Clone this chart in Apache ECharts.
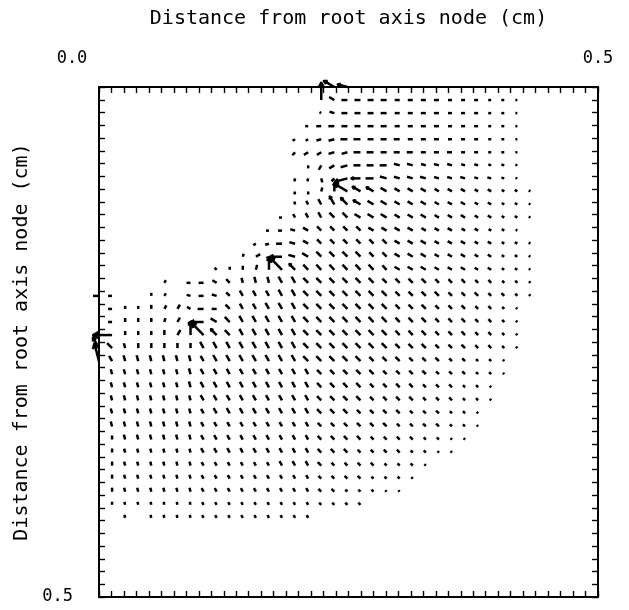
<!DOCTYPE html>
<html>
<head>
<meta charset="utf-8">
<script src="https://cdn.jsdelivr.net/npm/echarts@6/dist/echarts.min.js"></script>
<style>
  html, body { margin: 0; padding: 0; background: #fff; }
  #chart { width: 629px; height: 610px; }
</style>
</head>
<body>
<div id="chart"></div>
<script>
// axis info
const axisTitle = 'Distance from root axis node (cm)';
const axisMin = 0;
const axisMax = 0.5;
const tickCount = 40;

// vector grid: column c sits at c * gridStepX, row r at r * gridStepY (cm)
const gridStepX = 0.0131;
const gridStepY = 0.0128;
const magUnit = 0.001;     // cm per magnitude unit
const angleStep = 15;      // degrees per angle code

// per row: first column, angle codes (base36 * 15 deg, '.' = no vector), magnitudes (base36)
const rowStart = [18, 17, 17, 16, 15, 15, 16, 15, 15, 15, 14, 13, 12, 11, 9, 5, 0,
  1, 1, 0, 0, 0, 1, 1, 1, 1, 1, 1, 1, 1, 1, 1, 1, 2];

const angleRows = [
  'ab',
  '6accc ccccc ccccc c',
  'abccc ccccc ccccc c',
  'ccccc ccccc ccccc cc',
  'eeddc ccccc ccccc ccc',
  'feedd ccccc ccccc ccc',
  'igedc ccbbb bbbbb bb',
  'hhjfd ccbbb bbbbb bbb',
  'hi56a aaaaa aaaaa aaaa',
  '78889 aaaaa aaaaa aaaa',
  'c8889 9aaaa aaaaa aaaaa',
  'ccba9 999aa aaaaa aaaaa',
  'edcba 99999 9aaaa aaaaa aa',
  '52ecb a9999 99aaa aaaaa aaa',
  '96656 99999 9999a aaaaa aaaaa',
  '4.cca 97778 89999 99999 99999 9999',
  'cc..6 4.bcb 98888 89999 99999 99999 9999',
  'c6664 4acc9 88888 99999 99999 99999 99',
  'c6665 4eca9 88888 99999 99999 99999 99',
  'cc666 64699 98888 89999 99999 99999 999',
  '89766 66688 88888 89999 99999 99999 999',
  '78777 77788 88888 89999 99999 99999 99',
  '77777 77888 88888 89999 99999 99999 9',
  '77777 77888 88888 89999 99999 99999',
  '77777 77888 88888 89999 99999 99999',
  '77777 77888 88888 89999 99999 9999',
  '77777 77888 88888 89999 99999 9999',
  '67777 77888 88888 89999 99999 999',
  '67777 77888 88888 89999 99999 99',
  '67777 77888 88888 89999 99999',
  '67777 77888 88888 89999 9999',
  '67777 77888 88888 89999 999',
  '67777 77888 88888 89999',
  '7.777 78888 88888'
];

const magRows = [
  'ca',
  'h6666 65555 44433 2',
  '25666 65555 44433 2',
  '35666 66555 54443 32',
  '33567 76665 55444 332',
  '45566 77666 55544 332',
  '35677 77665 55443 32',
  '3344d 98766 65554 432',
  '3348f 98766 65554 4332',
  '34699 87766 65554 4332',
  '34567 77776 66555 44332',
  '34566 66666 66555 44332',
  '34666 66666 66665 55443 32',
  '353c7 77777 66666 55544 332',
  '3345c h8777 77766 66555 44332',
  '30455 55667 77777 77666 65554 4332',
  '64003 30455 56667 77777 77766 66555 4432',
  '43344 54656 66777 77777 77666 55544 32',
  '44444 53d77 77777 77777 77666 55544 32',
  '6j444 56dh8 77777 77777 77766 65554 432',
  'c7555 55577 77777 77777 77766 65554 432',
  'i6666 66667 77777 77777 76665 55443 32',
  '55555 56666 66666 66666 65555 44433 2',
  '55555 56666 66666 66666 55554 44332',
  '55555 55666 66666 66666 55554 44332',
  '55555 55566 66666 66665 55544 4332',
  '55555 55555 55555 55555 55444 4332',
  '45555 55555 55555 55555 44443 322',
  '44444 44555 55555 55554 44433 22',
  '44444 44444 44455 55444 43332',
  '44444 44444 44444 44444 3332',
  '44444 44444 44444 44433 322',
  '33333 33333 33333 33333',
  '30333 33333 33333'
];

const vectors = [];
angleRows.forEach((row, r) => {
  const a = row.replace(/ /g, '');
  const m = magRows[r].replace(/ /g, '');
  for (let i = 0; i < a.length; i++) {
    if (a[i] === '.') continue;
    const c = rowStart[r] + i;
    vectors.push([c * gridStepX, r * gridStepY, parseInt(a[i], 36) * angleStep, parseInt(m[i], 36)]);
  }
});

function renderArrow(params, api) {
  const x = api.value(0);
  const y = api.value(1);
  const ang = api.value(2) * Math.PI / 180;
  const len = api.value(3) * magUnit;
  const p0 = api.coord([x, y]);
  const p1 = api.coord([x + len * Math.cos(ang), y - len * Math.sin(ang)]);
  const style = { stroke: '#000', lineWidth: 2.5, lineCap: 'butt', lineJoin: 'round', fill: null };
  const children = [{ type: 'polyline', shape: { points: [p0, p1] }, style: style }];
  const L = Math.hypot(p1[0] - p0[0], p1[1] - p0[1]);
  if (L >= 8) {
    // arrow head only on the long vectors, short ones read as dashes
    const th = Math.atan2(p1[1] - p0[1], p1[0] - p0[0]);
    const h = L * 0.32;
    const spread = 0.5;
    const h1 = [p1[0] - h * Math.cos(th - spread), p1[1] - h * Math.sin(th - spread)];
    const h2 = [p1[0] - h * Math.cos(th + spread), p1[1] - h * Math.sin(th + spread)];
    children.push({ type: 'polyline', shape: { points: [h1, p1, h2] }, style: style });
  }
  return { type: 'group', children: children };
}

const font = 'DejaVu Sans Mono';
const lineStyle = { color: '#000', width: 2 };
const tickStyle = { color: '#000', width: 1.4 };

function frameAxis(extra) {
  return Object.assign({
    type: 'value',
    min: axisMin,
    max: axisMax,
    interval: axisMax - axisMin,
    axisLine: { show: true, onZero: false, lineStyle: lineStyle },
    axisTick: { show: true, inside: true, length: 6, lineStyle: tickStyle },
    minorTick: { show: true, splitNumber: tickCount, length: 6, lineStyle: tickStyle },
    splitLine: { show: false },
    minorSplitLine: { show: false },
    axisLabel: { show: false }
  }, extra);
}

const chart = echarts.init(document.getElementById('chart'));
chart.setOption({
  animation: false,
  backgroundColor: '#fff',
  grid: { left: 99, top: 87, width: 499, height: 510 },
  xAxis: [
    frameAxis({
      position: 'top',
      name: axisTitle,
      nameLocation: 'middle',
      nameGap: 58,
      nameTextStyle: { fontFamily: font, fontSize: 20, color: '#000' },
      axisLabel: {
        show: true,
        margin: 20,
        fontFamily: font,
        fontSize: 17,
        color: '#000',
        formatter: v => (v === axisMin ? '{l|0.0}' : '0.5'),
        rich: { l: { fontFamily: font, fontSize: 17, color: '#000', padding: [0, 54, 0, 0] } }
      }
    }),
    frameAxis({ position: 'bottom' })
  ],
  yAxis: [
    frameAxis({
      position: 'left',
      inverse: true,
      name: axisTitle,
      nameLocation: 'middle',
      nameRotate: 90,
      nameGap: 66,
      nameTextStyle: { fontFamily: font, fontSize: 20, color: '#000' },
      axisLabel: {
        show: true,
        margin: 26,
        fontFamily: font,
        fontSize: 17,
        color: '#000',
        formatter: v => (v === axisMax ? '0.5' : '')
      }
    }),
    frameAxis({ position: 'right', inverse: true })
  ],
  series: [{
    type: 'custom',
    xAxisIndex: 0,
    yAxisIndex: 0,
    clip: false,
    encode: { x: 0, y: 1 },
    renderItem: renderArrow,
    data: vectors
  }]
});
</script>
</body>
</html>
